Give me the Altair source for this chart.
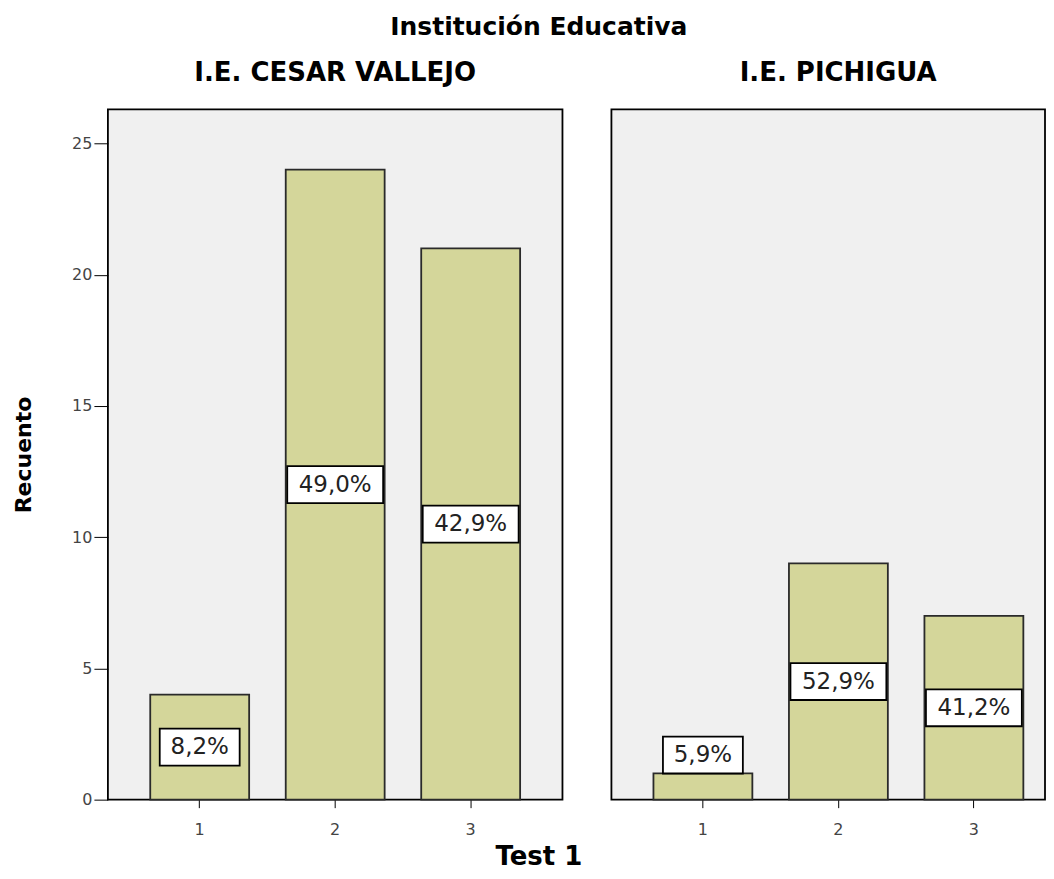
import altair as alt
import pandas as pd

instituciones = ["I.E. CESAR VALLEJO", "I.E. PICHIGUA"]
institucion = ["I.E. CESAR VALLEJO"] * 3 + ["I.E. PICHIGUA"] * 3
test = ["1", "2", "3", "1", "2", "3"]
recuento = [4, 24, 21, 1, 9, 7]
porcentaje = ["8,2%", "49,0%", "42,9%", "5,9%", "52,9%", "41,2%"]

df = pd.DataFrame({
    "institucion": institucion,
    "test": test,
    "recuento": recuento,
    "pct": porcentaje,
})
# label sits in the middle of the bar, or just above it when the bar is too short
df["label_y"] = [v / 2 if v >= 1.5 else v + 0.7 for v in df["recuento"]]
# label box outline (pixel units at size=4), sized to the text length
df["box"] = [
    "M-{w},-18.5H{w}V18.5H-{w}Z".format(w=40 if len(s) == 4 else 48)
    for s in df["pct"]
]

Y_DOMAIN = [0, 26.3]


def panel(name, width, scale, show_y, dx):
    x_enc = alt.X("test:N", title=None, scale=scale, axis=alt.Axis(labelAngle=0))
    if show_y:
        y_axis = alt.Axis(values=[0, 5, 10, 15, 20, 25], grid=False, domain=False)
    else:
        y_axis = None
    y_scale = alt.Scale(domain=Y_DOMAIN, nice=False)
    bars = alt.Chart().mark_bar(
        color="#D4D69A", stroke="#2a2a2a", strokeWidth=1.8
    ).encode(
        x=x_enc,
        y=alt.Y("recuento:Q", title="Recuento", scale=y_scale, axis=y_axis),
    )
    boxes = alt.Chart().mark_point(
        filled=True, fill="white", stroke="black", strokeWidth=1.8, opacity=1, size=4
    ).encode(
        x=x_enc,
        y=alt.Y("label_y:Q", scale=y_scale),
        shape=alt.Shape("box:N", scale=None, legend=None),
    )
    texts = alt.Chart().mark_text(
        font="DejaVu Sans", fontSize=23, color="#222222"
    ).encode(
        x=x_enc,
        y=alt.Y("label_y:Q", scale=y_scale),
        text="pct:N",
    )
    return alt.layer(
        bars, boxes, texts, data=df[df["institucion"] == name]
    ).properties(
        width=width,
        height=691,
        title=alt.TitleParams(
            name,
            anchor="middle",
            font="DejaVu Sans",
            fontSize=26,
            fontWeight="bold",
            color="black",
            offset=23,
            dx=dx,
        ),
    )


p1 = panel(
    instituciones[0], 455,
    alt.Scale(paddingInner=0.27, paddingOuter=0.3125),
    True, 0,
)
p2 = panel(
    instituciones[1], 434,
    alt.Scale(paddingInner=0.27, paddingOuter=0.235, align=0.66),
    False, 10,
)

inner = alt.hconcat(p1, p2, spacing=47).properties(
    title=alt.TitleParams(
        "Test 1",
        orient="bottom",
        anchor="middle",
        font="DejaVu Sans",
        fontSize=26,
        fontWeight="bold",
        color="black",
        offset=6,
        dx=10,
    )
)

chart = alt.vconcat(inner).properties(
    title=alt.TitleParams(
        "Institución Educativa",
        anchor="middle",
        font="DejaVu Sans",
        fontSize=25,
        fontWeight="bold",
        color="black",
        offset=19,
        dx=10,
    ),
    padding={"left": 3, "top": 7, "right": 0, "bottom": 0},
).configure_view(
    fill="#F0F0F0", stroke="black", strokeWidth=1.8
).configure_axis(
    domainColor="black",
    tickColor="black",
    labelFont="DejaVu Sans",
    labelFontSize=16,
    labelColor="#444444",
    titleFont="DejaVu Sans",
    titleFontSize=22,
    titleFontWeight="bold",
    titleColor="black",
).configure_axisY(
    tickSize=14, labelPadding=2, titlePadding=36
).configure_axisX(
    tickSize=8, labelPadding=14, domain=False
).configure_concat(spacing=0)

chart.save("out.html", embed_options={"renderer": "svg", "actions": False})
